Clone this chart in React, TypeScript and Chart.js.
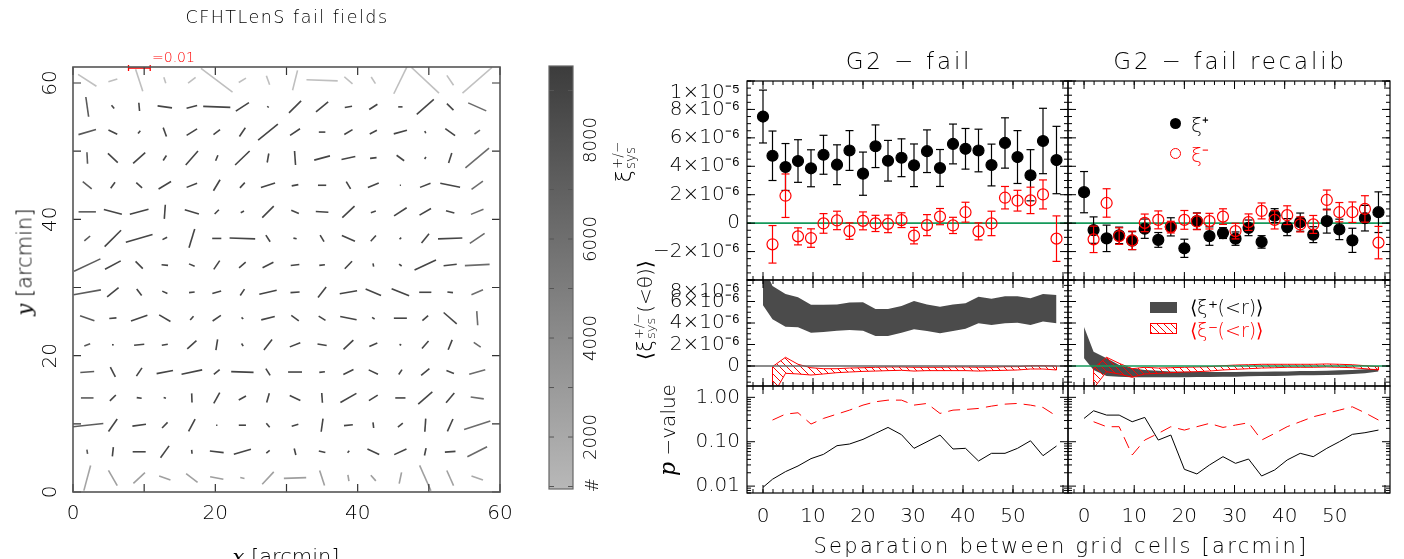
import React, { useEffect, useRef } from 'react';
import { Chart, registerables } from 'chart.js';

Chart.register(...registerables);

const W = 1404;
const H = 559;
const FONT = '"DejaVu Sans", "Liberation Sans", sans-serif';
const FONT_WEIGHT = 200;
const MATH_IT = '"DejaVu Serif", "Liberation Serif", serif';
const RED = '#ff0000';
const GREEN = '#15995a';
const BAND_GRAY = '#4b4b4b';

// ===================== DATA: shear map =====================
// grid-cell centres [arcmin]
const GRID_X = [2.0, 5.6, 9.3, 12.9, 16.7, 20.2, 23.8, 27.4, 31.2, 35.0, 38.7, 42.2, 46.0, 49.5, 53.0, 56.8];
const GRID_Y = [60.4, 56.5, 52.8, 49.0, 45.0, 41.1, 37.2, 33.3, 29.3, 25.5, 21.6, 17.6, 13.8, 9.8, 5.9, 2.05];
// whisker position angle [deg, counter-clockwise from +x], rows top -> bottom
const WHISKER_ANGLE = [
  [147, 17, 108, 108, 38, 143, 31, 110, 76, 178, 139, 123, 64, 137, 124, 41],
  [98, 129, 95, 172, 14, 178, 33, 140, 45, 39, 10, 33, 0, 41, 135, 156],
  [16, 154, 52, 110, 32, 37, 56, 39, 34, 0, 31, 27, 15, 113, 144, 35],
  [93, 137, 42, 56, 49, 68, 44, 80, 94, 15, 12, 6, 144, 56, 72, 40],
  [141, 54, 138, 31, 22, 59, 47, 17, 11, 0, 121, 22, 0, 22, 169, 36],
  [0, 165, 15, 86, 163, 45, 27, 45, 157, 177, 43, 18, 33, 30, 164, 22],
  [40, 45, 16, 27, 73, 0, 178, 123, 169, 121, 156, 48, 45, 51, 2, 34],
  [25, 28, 135, 174, 158, 56, 40, 27, 7, 7, 46, 101, 143, 25, 7, 3],
  [10, 39, 127, 156, 7, 15, 56, 13, 4, 52, 10, 157, 158, 0, 173, 23],
  [161, 5, 19, 150, 48, 34, 135, 14, 144, 148, 169, 148, 0, 41, 139, 94],
  [21, 0, 6, 10, 42, 81, 122, 52, 22, 170, 43, 23, 149, 49, 68, 145],
  [4, 117, 56, 11, 12, 40, 178, 122, 0, 7, 26, 155, 56, 39, 159, 16],
  [0, 45, 172, 164, 92, 61, 29, 74, 155, 94, 30, 32, 0, 41, 50, 172],
  [6, 55, 8, 45, 62, 0, 0, 130, 17, 82, 6, 97, 39, 86, 66, 18],
  [99, 84, 0, 54, 95, 173, 16, 39, 104, 166, 50, 155, 25, 78, 4, 27],
  [75, 120, 43, 161, 143, 169, 167, 47, 2, 108, 99, 131, 78, 114, 114, 161],
];
// whisker ellipticity [units of 1e-3]
const WHISKER_E = [
  [10.1, 4.3, 10.7, 2.9, 4.4, 18.2, 3.9, 4.4, 9.4, 14.4, 5.0, 3.6, 13.8, 17.3, 5.5, 18.0],
  [9.2, 2.0, 3.8, 6.7, 5.0, 12.5, 7.2, 0.9, 7.9, 7.2, 3.4, 4.5, 2.0, 10.4, 4.3, 9.1],
  [8.4, 4.5, 1.7, 4.4, 5.7, 3.8, 4.9, 11.7, 5.5, 3.0, 4.4, 3.7, 6.3, 1.1, 5.6, 3.1],
  [5.3, 6.2, 7.5, 2.7, 8.6, 2.8, 9.3, 4.2, 6.5, 7.5, 6.5, 3.0, 4.3, 1.1, 4.8, 14.2],
  [5.3, 3.4, 3.6, 6.7, 5.2, 5.9, 3.3, 6.8, 3.1, 3.8, 3.9, 5.4, 0.5, 5.2, 9.3, 6.5],
  [8.0, 8.6, 8.9, 6.5, 6.8, 2.8, 1.7, 7.5, 3.8, 5.8, 7.7, 2.4, 6.9, 6.1, 4.0, 6.2],
  [3.5, 10.7, 12.8, 2.4, 9.0, 4.2, 11.8, 3.6, 1.5, 3.5, 6.6, 3.6, 1.1, 5.5, 11.2, 8.2],
  [13.4, 8.2, 4.7, 3.0, 2.8, 4.9, 4.0, 5.6, 4.0, 2.6, 4.8, 1.5, 1.5, 10.9, 6.1, 11.4],
  [12.8, 6.8, 3.8, 2.6, 2.6, 4.2, 3.5, 8.2, 4.2, 6.1, 8.1, 7.7, 8.7, 5.6, 2.6, 5.8],
  [7.0, 3.3, 8.0, 6.0, 2.3, 4.6, 1.1, 6.4, 4.3, 3.7, 7.7, 1.4, 6.0, 3.5, 8.0, 6.5],
  [2.9, 0.8, 4.7, 2.8, 5.7, 5.0, 1.4, 6.1, 5.2, 4.3, 6.2, 4.0, 0.9, 4.6, 4.9, 3.9],
  [6.4, 5.1, 4.6, 7.7, 9.7, 3.5, 10.3, 3.7, 6.4, 2.6, 5.2, 4.7, 2.7, 4.9, 3.7, 7.7],
  [5.8, 3.9, 2.3, 1.1, 4.2, 5.7, 3.8, 4.4, 5.4, 4.5, 8.5, 4.8, 4.7, 8.6, 5.9, 6.1],
  [14.9, 7.0, 6.3, 3.6, 6.4, 0.6, 3.3, 2.4, 3.2, 6.1, 4.1, 2.6, 2.9, 6.1, 6.3, 12.7],
  [2.0, 4.3, 6.0, 6.7, 1.8, 6.4, 8.2, 2.0, 3.1, 3.1, 1.2, 6.0, 6.2, 3.5, 4.9, 10.2],
  [12.0, 8.1, 7.3, 5.5, 6.6, 6.2, 2.0, 7.8, 10.3, 7.3, 3.0, 3.5, 5.3, 12.8, 7.6, 5.6],
];
// galaxies per cell (grey level)
const CELL_COUNT = [
  [400, 500, 500, 500, 500, 450, 500, 500, 500, 500, 500, 500, 450, 400, 500, 350],
  [7400, 8800, 8900, 8800, 8900, 8800, 8900, 8800, 8800, 8900, 8800, 8900, 8800, 8800, 8700, 6200],
  [7500, 8900, 8800, 8900, 8800, 8900, 8800, 8900, 8900, 8800, 8900, 8800, 8900, 8800, 8800, 6300],
  [7400, 8800, 8900, 8800, 8900, 8800, 8900, 8800, 8800, 8900, 8800, 8900, 8800, 8900, 8700, 6200],
  [7300, 8900, 8800, 8900, 8800, 8900, 8800, 8900, 8900, 8800, 8900, 8800, 8900, 8800, 8800, 6100],
  [7400, 8800, 8900, 8800, 8900, 8800, 8900, 8800, 8800, 8900, 8800, 8900, 8800, 8900, 8700, 6200],
  [7500, 8900, 8800, 8900, 8800, 8900, 8800, 8900, 8900, 8800, 8900, 8800, 8900, 8800, 8800, 6300],
  [7200, 8800, 8900, 8800, 8900, 8800, 8900, 8800, 8800, 8900, 8800, 8900, 8800, 8900, 8700, 6200],
  [7300, 8900, 8800, 8900, 8800, 8900, 8800, 8900, 8900, 8800, 8900, 8800, 8900, 8800, 8800, 6100],
  [7400, 8800, 8900, 8800, 8900, 8800, 8900, 8800, 8800, 8900, 8800, 8900, 8800, 8900, 8700, 6200],
  [7500, 8900, 8800, 8900, 8800, 8900, 8800, 8900, 8900, 8800, 8900, 8800, 8900, 8800, 8800, 6300],
  [7400, 8800, 8900, 8800, 8900, 8800, 8900, 8800, 8800, 8900, 8800, 8900, 8800, 8900, 8700, 6200],
  [7300, 8900, 8800, 8900, 8800, 8900, 8800, 8900, 8900, 8800, 8900, 8800, 8900, 8800, 8800, 6100],
  [7200, 8800, 8900, 8800, 8900, 8800, 8900, 8800, 8800, 8900, 8800, 8900, 8800, 8900, 8700, 6200],
  [7400, 8900, 8800, 8900, 8800, 8900, 8800, 8900, 8900, 8800, 8900, 8800, 8900, 8800, 8800, 6300],
  [2300, 2600, 2700, 2600, 2600, 2700, 2600, 2600, 2700, 2600, 2600, 2700, 2600, 2600, 2500, 2000],
];
const MAP_X_RANGE = [0, 60];
const MAP_Y_RANGE = [0, 62.35];
const SCALE_BAR_E = 10; // e = 0.01 in units of 1e-3
const SCALE_BAR_ARCMIN = 3.05; // map length of a whisker with e = 0.01
const SCALE_BAR_X0 = 7.8;

// colour bar range (# galaxies) and its tick labels
const CB_MIN = 950;
const CB_MAX = 9495;
const CB_TICKS = [2000, 4000, 6000, 8000];

// ===================== DATA: correlation panels =====================
const SEP = [0, 1.9, 4.5, 7.0, 9.6, 12.1, 14.8, 17.3, 20.0, 22.5, 25.0, 27.7, 30.2, 32.8, 35.4, 38.0, 40.5, 43.1, 45.7, 48.4, 50.9, 53.5, 56.0, 58.7];
// xi values in units of 1e-6
const XIP_FAIL = [7.50, 4.74, 3.95, 4.37, 3.86, 4.81, 4.11, 5.11, 3.48, 5.41, 4.39, 4.60, 4.07, 5.06, 3.88, 5.57, 5.23, 5.11, 4.09, 5.64, 4.65, 3.37, 5.78, 4.44];
const XIP_FAIL_ERR = [1.86, 1.74, 1.65, 1.5, 1.3, 1.37, 1.4, 1.4, 1.52, 1.5, 1.43, 1.33, 1.5, 1.5, 1.3, 1.4, 1.43, 1.5, 1.47, 1.77, 1.86, 1.8, 2.3, 2.37];
const XIM_FAIL = [null, -1.49, 1.93, -0.93, -1.05, -0.02, 0.19, -0.56, 0.16, -0.02, -0.05, 0.21, -0.88, -0.14, 0.46, -0.16, 0.77, -0.58, -0.02, 1.79, 1.58, 1.60, 2.02, -1.09];
const XIM_FAIL_ERR = [null, 1.32, 1.53, 0.6, 0.65, 0.69, 0.65, 0.58, 0.63, 0.57, 0.62, 0.52, 0.58, 0.74, 0.57, 0.57, 0.7, 0.6, 0.86, 0.79, 0.73, 0.93, 1.02, 1.6];
const XIP_RECAL = [2.18, -0.49, -1.07, -0.86, -1.23, -0.39, -1.18, -0.26, -1.77, 0.14, -0.91, -0.70, -1.09, -0.33, -1.32, 0.53, -0.28, 0.07, -0.81, 0.14, -0.44, -1.21, 0.35, 0.77];
const XIP_RECAL_ERR = [1.45, 0.93, 0.93, 0.58, 0.63, 0.68, 0.52, 0.64, 0.64, 0.58, 0.65, 0.38, 0.47, 0.55, 0.44, 0.49, 0.6, 0.64, 0.56, 0.84, 0.72, 0.85, 0.9, 1.43];
const XIM_RECAL = [null, -1.14, 1.42, -0.91, -1.21, 0.02, 0.23, -0.28, 0.23, 0.12, 0.14, 0.46, -0.56, 0.07, 0.86, 0.23, 0.56, -0.09, -0.09, 1.63, 0.77, 0.77, 1.0, -1.37];
const XIM_RECAL_ERR = [null, 0.93, 1.0, 0.58, 0.65, 0.62, 0.63, 0.41, 0.66, 0.58, 0.55, 0.55, 0.55, 0.58, 0.56, 0.64, 0.66, 0.53, 0.63, 0.7, 0.68, 0.72, 0.93, 1.14];

// cumulative <xi(<r)> bands, units of 1e-6
const CUMP_FAIL_HI = [9.36, 7.44, 6.7, 6.4, 5.7, 5.7, 5.73, 5.9, 5.92, 5.3, 5.3, 5.58, 6.05, 5.73, 5.52, 5.73, 5.83, 6.45, 6.26, 6.5, 6.5, 6.3, 6.7, 6.6];
const CUMP_FAIL_LO = [5.64, 4.34, 3.66, 3.6, 3.1, 3.16, 3.29, 3.35, 3.29, 2.79, 2.79, 3.1, 3.41, 3.26, 3.04, 3.26, 3.47, 3.97, 3.82, 3.97, 4.03, 3.82, 4.13, 3.97];
const CUMM_FAIL_HI = [null, -0.06, 0.81, 0.16, -0.16, -0.25, -0.25, -0.19, -0.16, -0.12, -0.09, -0.09, -0.12, -0.12, -0.12, -0.09, -0.09, -0.12, -0.12, -0.06, -0.06, 0.03, 0.03, 0.0];
const CUMM_FAIL_LO = [null, -2.81, -0.68, -0.74, -0.84, -0.74, -0.62, -0.56, -0.5, -0.47, -0.43, -0.4, -0.47, -0.43, -0.43, -0.43, -0.43, -0.47, -0.43, -0.4, -0.37, -0.28, -0.28, -0.37];
const CUMP_RECAL_HI = [3.63, 1.33, 0.71, 0.09, -0.22, -0.37, -0.43, -0.50, -0.53, -0.53, -0.56, -0.56, -0.56, -0.53, -0.53, -0.50, -0.50, -0.47, -0.47, -0.43, -0.40, -0.37, -0.31, -0.25];
const CUMP_RECAL_LO = [0.73, -0.37, -0.93, -0.99, -1.05, -1.05, -1.05, -1.05, -1.05, -1.02, -1.02, -0.99, -0.99, -0.96, -0.93, -0.93, -0.90, -0.87, -0.87, -0.84, -0.81, -0.74, -0.68, -0.50];
const CUMM_RECAL_HI = [null, -0.21, 0.81, 0.25, -0.25, -0.12, -0.19, -0.16, -0.12, -0.09, -0.06, 0.03, 0.09, 0.12, 0.16, 0.16, 0.16, 0.16, 0.16, 0.19, 0.16, 0.12, 0.03, -0.06];
const CUMM_RECAL_LO = [null, -2.07, -0.53, -0.74, -1.05, -0.74, -0.68, -0.62, -0.56, -0.53, -0.47, -0.37, -0.31, -0.25, -0.19, -0.16, -0.12, -0.12, -0.12, -0.09, -0.12, -0.16, -0.25, -0.37];

// p-values
const PP_FAIL = [0.0094, 0.0143, 0.0212, 0.0284, 0.0416, 0.052, 0.0815, 0.0888, 0.113, 0.154, 0.21, 0.144, 0.071, 0.1, 0.1415, 0.0686, 0.071, 0.0368, 0.0548, 0.0548, 0.071, 0.105, 0.0485, 0.080];
const PM_FAIL = [null, 0.308, 0.419, 0.449, 0.25, 0.335, 0.419, 0.515, 0.668, 0.794, 0.865, 0.865, 0.668, 0.728, 0.434, 0.515, 0.533, 0.562, 0.634, 0.703, 0.728, 0.668, 0.592, 0.378];
const PP_RECAL = [0.335, 0.498, 0.398, 0.398, 0.282, 0.353, 0.109, 0.1415, 0.0239, 0.0188, 0.0299, 0.0461, 0.0326, 0.0408, 0.0169, 0.0231, 0.0388, 0.0548, 0.0461, 0.071, 0.1, 0.1466, 0.1596, 0.183];
const PM_RECAL = [null, 0.282, 0.218, 0.218, 0.0502, 0.109, 0.154, 0.218, 0.183, 0.218, 0.259, 0.21, 0.237, 0.268, 0.109, 0.154, 0.218, 0.282, 0.365, 0.434, 0.515, 0.612, 0.449, 0.308];

// axis ranges
const X_RANGE = [-3.2, 61];
const XI_RANGE = [-4, 10];
const CUM_RANGE = [-1.86, 8];
const P_RANGE = [0.007, 1.8];

// ===================== LAYOUT =====================
const RECT = {
  map: { l: 73, t: 67, r: 500, b: 492 },
  cbar: { l: 549, t: 66, r: 573, b: 489 },
  xi1: { l: 747, t: 81, r: 1068, b: 280 },
  xi2: { l: 1068, t: 81, r: 1390, b: 280 },
  cum1: { l: 747, t: 280, r: 1068, b: 386 },
  cum2: { l: 1068, t: 280, r: 1390, b: 386 },
  p1: { l: 747, t: 386, r: 1068, b: 493 },
  p2: { l: 1068, t: 386, r: 1390, b: 493 },
};
const AXIS_BOX = { left: 140, bottom: 50, mapLeft: 60, cbarRight: 40 };

// ===================== helpers =====================
const SUP: Record<string, string> = { '0': '⁰', '1': '¹', '2': '²', '3': '³', '4': '⁴', '5': '⁵', '6': '⁶', '7': '⁷', '8': '⁸', '9': '⁹', '-': '⁻' };
function sci(v: number): string {
  if (Math.abs(v) < 1e-9) return '0';
  const real = v * 1e-6;
  const e = Math.floor(Math.log10(Math.abs(real)) + 1e-9);
  const m = Math.round(real / Math.pow(10, e));
  return (m < 0 ? '−' : '') + Math.abs(m) + '×10' + String(e).split('').map((c) => SUP[c]).join('');
}
// label at the upper edge of a panel is pushed just inside the frame (as in the original)
const sciEdge = (max: number) => (v: number) => (Math.abs(v - max) < 1e-9 ? ['', sci(v)] : sci(v));

function grayOf(n: number): string {
  const t = (n - CB_MIN) / (CB_MAX - CB_MIN);
  const g = Math.round(Math.max(40, Math.min(215, 184 - t * 124)));
  return `rgb(${g},${g},${g})`;
}

// fixes an axis box to a given thickness (0 when the axis is hidden)
const fitTo = (size: number) => (s: any) => {
  const v = s.options.display === false ? 0 : size;
  if (s.isHorizontal()) s.height = v;
  else s.width = v;
  s.paddingLeft = 0;
  s.paddingRight = 0;
  s.paddingTop = 0;
  s.paddingBottom = 0;
};

const frameTicks: any = {
  id: 'frameTicks',
  afterDatasetsDraw(chart: any, _a: any, o: any) {
    const a = chart.chartArea;
    const ctx = chart.ctx;
    const xs = chart.scales.x;
    const ys = chart.scales.y;
    const L = a.left, R = a.right, T = a.top, B = a.bottom;
    ctx.save();
    ctx.strokeStyle = o.color;
    ctx.lineWidth = o.lineWidth;
    ctx.beginPath();
    const vx = (v: number, len: number) => {
      const p = xs.getPixelForValue(v);
      if (!isFinite(p) || p < L - 0.5 || p > R + 0.5) return;
      ctx.moveTo(p, B); ctx.lineTo(p, B - len);
      ctx.moveTo(p, T); ctx.lineTo(p, T + len);
    };
    const vy = (v: number, len: number) => {
      const p = ys.getPixelForValue(v);
      if (!isFinite(p) || p < T - 0.5 || p > B + 0.5) return;
      ctx.moveTo(L, p); ctx.lineTo(L + len, p);
      ctx.moveTo(R, p); ctx.lineTo(R - len, p);
    };
    const steps = (min: number, max: number, step: number) => {
      const out: number[] = [];
      for (let k = Math.ceil(min / step - 1e-9); k * step <= max + 1e-9; k++) out.push(k * step);
      return out;
    };
    if (o.xMinor) steps(xs.min, xs.max, o.xMinor).forEach((v) => vx(v, o.minorLen));
    if (o.xMajor) steps(xs.min, xs.max, o.xMajor).forEach((v) => vx(v, o.majorLen));
    if (o.yLog) {
      for (let e = Math.floor(Math.log10(ys.min)); e <= Math.ceil(Math.log10(ys.max)); e++) {
        for (let m = 1; m <= 9; m++) {
          const v = m * Math.pow(10, e);
          if (v >= ys.min && v <= ys.max) vy(v, m === 1 ? o.majorLen : o.minorLen);
        }
      }
    } else {
      if (o.yMinor) steps(ys.min, ys.max, o.yMinor).forEach((v) => vy(v, o.minorLen));
      if (o.yMajor) steps(ys.min, ys.max, o.yMajor).forEach((v) => vy(v, o.majorLen));
    }
    ctx.stroke();
    ctx.lineWidth = o.frameWidth || o.lineWidth;
    ctx.strokeStyle = o.frameColor || o.color;
    ctx.strokeRect(L, T, R - L, B - T);
    ctx.restore();
  },
};

const TICK_FONT = { family: FONT, size: 20, weight: FONT_WEIGHT };
const baseOpts = (rect: any, pad: { l?: number; r?: number; b?: number } = {}) => ({
  responsive: false,
  maintainAspectRatio: false,
  animation: false,
  devicePixelRatio: 1,
  events: [],
  layout: {
    padding: {
      left: rect.l - (pad.l || 0),
      top: rect.t,
      right: W - rect.r - (pad.r || 0),
      bottom: H - rect.b - (pad.b || 0),
    },
  },
});
const noGrid = { grid: { display: false, drawTicks: false }, border: { display: false } };

function pts(xs: number[], ys: (number | null)[]) {
  return xs.map((x, i) => ({ x, y: ys[i] }));
}

function errorBars(xs: number[], ys: (number | null)[], es: (number | null)[], color: string, order: number) {
  const data: any[] = [];
  xs.forEach((x, i) => {
    const y = ys[i];
    const e = es[i];
    if (y == null || e == null) return;
    data.push({ x, y: y - e }, { x, y: y + e }, { x, y: null });
  });
  return {
    data, borderColor: color, borderWidth: 1.2, spanGaps: false,
    pointStyle: 'line', pointRadius: 4, pointBorderColor: color, pointBorderWidth: 1.2,
    pointBackgroundColor: color, order, fill: false,
  };
}

function markers(xs: number[], ys: (number | null)[], fill: string, stroke: string, order: number) {
  return {
    data: pts(xs, ys), showLine: false, pointStyle: 'circle', pointRadius: 5.5,
    pointBackgroundColor: fill, pointBorderColor: stroke, pointBorderWidth: 1.2, order,
  };
}

function zeroLine(color: string, width: number, order: number) {
  return {
    data: [{ x: X_RANGE[0], y: 0 }, { x: X_RANGE[1], y: 0 }],
    borderColor: color, borderWidth: width, pointRadius: 0, order, fill: false,
  };
}

function bandDatasets(xs: number[], hi: (number | null)[], lo: (number | null)[], fillStyle: any, order: number) {
  return [
    { data: pts(xs, hi), fill: '+1', backgroundColor: fillStyle, borderWidth: 0, pointRadius: 0, order },
    { data: pts(xs, lo), fill: false, borderWidth: 0, pointRadius: 0, order },
  ];
}

function outline(xs: number[], hi: (number | null)[], lo: (number | null)[], color: string, width: number, order: number) {
  const up = xs.map((x, i) => ({ x, y: hi[i] })).filter((p) => p.y != null);
  const dn = xs.map((x, i) => ({ x, y: lo[i] })).filter((p) => p.y != null).reverse();
  return { data: [...up, ...dn, up[0]], borderColor: color, borderWidth: width, pointRadius: 0, fill: false, order };
}

function hatchPattern(color: string) {
  const c = document.createElement('canvas');
  c.width = 7;
  c.height = 7;
  const g = c.getContext('2d') as CanvasRenderingContext2D;
  g.strokeStyle = color;
  g.lineWidth = 1;
  g.beginPath();
  g.moveTo(-1, -1); g.lineTo(8, 8);
  g.moveTo(-1, 6); g.lineTo(1, 8);
  g.moveTo(6, -1); g.lineTo(8, 1);
  g.stroke();
  return g.createPattern(c, 'repeat');
}

const PANEL_TICKS = { color: '#000', lineWidth: 1, frameWidth: 1.2, xMajor: 10, xMinor: 2, majorLen: 8, minorLen: 4 };

function panel(rect: any, datasets: any[], y: any, showX: boolean, showY: boolean, ticks: any) {
  return {
    type: 'line',
    data: { datasets },
    options: {
      ...baseOpts(rect, { l: showY ? AXIS_BOX.left : 0, b: showX ? AXIS_BOX.bottom : 0 }),
      plugins: { legend: { display: false }, tooltip: { enabled: false }, frameTicks: ticks },
      scales: {
        x: {
          type: 'linear', min: X_RANGE[0], max: X_RANGE[1], display: showX, afterFit: fitTo(AXIS_BOX.bottom), ...noGrid,
          ticks: {
            stepSize: 10, includeBounds: false, autoSkip: false, maxRotation: 0, minRotation: 0,
            font: TICK_FONT, color: '#000', padding: 12,
            callback: (v: number) => (v <= 50 ? String(v) : ''),
          },
        },
        y: { ...y, display: showY, afterFit: fitTo(AXIS_BOX.left), ...noGrid },
      },
    },
    plugins: [frameTicks],
  };
}

const yXi = {
  type: 'linear', min: XI_RANGE[0], max: XI_RANGE[1],
  ticks: {
    stepSize: 2, includeBounds: false, autoSkip: false, font: TICK_FONT, color: '#000', padding: 7,
    callback: (v: number) => (v <= XI_RANGE[0] + 0.5 ? '' : sciEdge(XI_RANGE[1])(v)),
  },
};
const yCum = {
  type: 'linear', min: CUM_RANGE[0], max: CUM_RANGE[1],
  ticks: { stepSize: 2, includeBounds: false, autoSkip: false, font: TICK_FONT, color: '#000', padding: 7, callback: sciEdge(CUM_RANGE[1]) },
};
const yP = {
  type: 'logarithmic', min: P_RANGE[0], max: P_RANGE[1],
  ticks: {
    autoSkip: false, font: TICK_FONT, color: '#000', padding: 7,
    callback: (v: number) => {
      const l = Math.log10(v);
      return Math.abs(l - Math.round(l)) < 1e-6 ? v.toFixed(2) : '';
    },
  },
};

function xiDatasets(xp: number[], xpe: number[], xm: (number | null)[], xme: (number | null)[]) {
  return [
    markers(SEP, xm, 'rgba(0,0,0,0)', RED, 1),
    errorBars(SEP, xm, xme, RED, 2),
    markers(SEP, xp, '#000', '#000', 3),
    errorBars(SEP, xp, xpe, '#000', 4),
    zeroLine(GREEN, 1.6, 5),
  ];
}

function cumDatasets(phi: number[], plo: number[], mhi: any[], mlo: any[], zeroColor: string, hatch: any) {
  return [
    zeroLine(zeroColor, 1.6, 0),
    outline(SEP, mhi, mlo, RED, 1, 1),
    ...bandDatasets(SEP, mhi, mlo, hatch, 2),
    ...bandDatasets(SEP, phi, plo, BAND_GRAY, 3),
  ];
}

function pDatasets(pp: number[], pm: any[]) {
  return [
    { data: pts(SEP, pm), borderColor: RED, borderWidth: 1, borderDash: [12, 7], pointRadius: 0, fill: false, order: 1 },
    { data: pts(SEP, pp), borderColor: '#000', borderWidth: 1, pointRadius: 0, fill: false, order: 2 },
  ];
}

function mapConfig() {
  const data: any[] = [];
  GRID_Y.forEach((y, r) =>
    GRID_X.forEach((x, c) => data.push({ x, y, a: WHISKER_ANGLE[r][c], e: WHISKER_E[r][c], n: CELL_COUNT[r][c] })),
  );
  const pxPerUnit = (chart: any) => {
    const s = chart.scales.x;
    const d = s ? Math.abs(s.getPixelForValue(1) - s.getPixelForValue(0)) : NaN;
    return isFinite(d) && d > 0 ? d : 7.1;
  };
  const barY = MAP_Y_RANGE[1] - 0.15;
  return {
    type: 'scatter',
    data: {
      datasets: [
        {
          data: [{ x: SCALE_BAR_X0, y: barY }, { x: SCALE_BAR_X0 + SCALE_BAR_ARCMIN, y: barY }],
          showLine: true, borderColor: RED, borderWidth: 1.5, pointStyle: 'line', pointRotation: 90,
          pointRadius: 3, pointBorderColor: RED, pointBorderWidth: 1.3, clip: false, order: 0,
        },
        {
          data, showLine: false, pointStyle: 'line',
          pointRotation: (c: any) => (c.raw ? -c.raw.a : 0),
          pointRadius: (c: any) => (c.raw ? ((c.raw.e / SCALE_BAR_E) * SCALE_BAR_ARCMIN * pxPerUnit(c.chart)) / 2 : 0),
          pointBorderColor: (c: any) => (c.raw ? grayOf(c.raw.n) : '#444'),
          pointBackgroundColor: (c: any) => (c.raw ? grayOf(c.raw.n) : '#444'),
          pointBorderWidth: 1.6, order: 1,
        },
      ],
    },
    options: {
      ...baseOpts(RECT.map, { l: AXIS_BOX.mapLeft, b: AXIS_BOX.bottom }),
      plugins: {
        legend: { display: false }, tooltip: { enabled: false },
        frameTicks: { color: '#333', lineWidth: 1.2, frameWidth: 1.6, frameColor: '#555', xMajor: 10, yMajor: 10, majorLen: 8, minorLen: 4 },
      },
      scales: {
        x: {
          type: 'linear', min: MAP_X_RANGE[0], max: MAP_X_RANGE[1], afterFit: fitTo(AXIS_BOX.bottom), ...noGrid,
          ticks: { stepSize: 20, includeBounds: false, autoSkip: false, maxRotation: 0, font: TICK_FONT, color: '#000', padding: 10 },
        },
        y: {
          type: 'linear', min: MAP_Y_RANGE[0], max: MAP_Y_RANGE[1], afterFit: fitTo(AXIS_BOX.mapLeft), ...noGrid,
          ticks: {
            stepSize: 20, includeBounds: false, autoSkip: false, minRotation: 90, maxRotation: 90,
            crossAlign: 'center', font: TICK_FONT, color: '#000', padding: 9,
          },
        },
      },
    },
    plugins: [frameTicks],
  };
}

function cbarConfig() {
  return {
    type: 'bar',
    data: {
      labels: ['#'],
      datasets: [
        {
          data: [[CB_MIN, CB_MAX]],
          backgroundColor: (c: any) => {
            const ch = c.chart;
            const ys = ch.scales && ch.scales.y;
            if (!ys) return grayOf((CB_MIN + CB_MAX) / 2);
            const y0 = ys.getPixelForValue(CB_MAX);
            const y1 = ys.getPixelForValue(CB_MIN);
            if (!isFinite(y0) || !isFinite(y1) || y0 === y1) return grayOf((CB_MIN + CB_MAX) / 2);
            const g = ch.ctx.createLinearGradient(0, y0, 0, y1);
            g.addColorStop(0, grayOf(CB_MAX));
            g.addColorStop(1, grayOf(CB_MIN));
            return g;
          },
          borderWidth: 0, barPercentage: 1, categoryPercentage: 1,
        },
      ],
    },
    options: {
      ...baseOpts(RECT.cbar, { r: AXIS_BOX.cbarRight }),
      plugins: {
        legend: { display: false }, tooltip: { enabled: false },
        frameTicks: { color: '#555', lineWidth: 1, frameWidth: 1.2, frameColor: '#666', yMajor: 1000, majorLen: 5, minorLen: 3 },
      },
      scales: {
        x: { type: 'category', display: false, afterFit: fitTo(0), offset: true, ...noGrid },
        y: {
          type: 'linear', position: 'right', min: CB_MIN, max: CB_MAX, afterFit: fitTo(AXIS_BOX.cbarRight), ...noGrid,
          afterBuildTicks: (s: any) => {
            s.ticks = CB_TICKS.map((v) => ({ value: v }));
          },
          ticks: {
            autoSkip: false, minRotation: 90, maxRotation: 90,
            crossAlign: 'center', font: { family: FONT, size: 18, weight: FONT_WEIGHT }, color: '#000', padding: -5,
            callback: (v: number) => String(v),
          },
        },
      },
    },
    plugins: [frameTicks],
  };
}

// ===================== text helpers =====================
function Txt(props: { x: number; y: number; size: number; color?: string; rot?: boolean; align?: 'center' | 'left'; spacing?: number; children: any; family?: string }) {
  const { x, y, size, color, rot, align, spacing, children, family } = props;
  const tx = align === 'left' ? '0' : '-50%';
  return (
    <div
      style={{
        position: 'absolute', left: x, top: y, whiteSpace: 'nowrap', lineHeight: 1,
        fontFamily: family || FONT, fontWeight: FONT_WEIGHT, fontSize: size, color: color || '#000',
        letterSpacing: spacing ? `${spacing}px` : undefined,
        transform: `translate(${tx},-50%)${rot ? ' rotate(-90deg)' : ''}`,
      }}
    >
      {children}
    </div>
  );
}

function XiSys({ size }: { size: number }) {
  return (
    <span style={{ display: 'inline-flex', alignItems: 'center' }}>
      <span style={{ fontSize: size }}>ξ</span>
      <span style={{ display: 'inline-flex', flexDirection: 'column', fontSize: size * 0.62, lineHeight: 0.95, marginLeft: 1 }}>
        <span>+/−</span>
        <span>sys</span>
      </span>
    </span>
  );
}

export default function App() {
  const refs = [useRef<HTMLCanvasElement>(null), useRef<HTMLCanvasElement>(null), useRef<HTMLCanvasElement>(null), useRef<HTMLCanvasElement>(null),
    useRef<HTMLCanvasElement>(null), useRef<HTMLCanvasElement>(null), useRef<HTMLCanvasElement>(null), useRef<HTMLCanvasElement>(null)];

  useEffect(() => {
    const hatch = hatchPattern(RED);
    const cfgs: any[] = [
      mapConfig(),
      cbarConfig(),
      panel(RECT.xi1, xiDatasets(XIP_FAIL, XIP_FAIL_ERR, XIM_FAIL, XIM_FAIL_ERR), yXi, false, true, { ...PANEL_TICKS, yMajor: 2, yMinor: 0.5 }),
      panel(RECT.xi2, xiDatasets(XIP_RECAL, XIP_RECAL_ERR, XIM_RECAL, XIM_RECAL_ERR), yXi, false, false, { ...PANEL_TICKS, yMajor: 2, yMinor: 0.5 }),
      panel(RECT.cum1, cumDatasets(CUMP_FAIL_HI, CUMP_FAIL_LO, CUMM_FAIL_HI, CUMM_FAIL_LO, '#666666', hatch), yCum, false, true, { ...PANEL_TICKS, yMajor: 2, yMinor: 0.5 }),
      panel(RECT.cum2, cumDatasets(CUMP_RECAL_HI, CUMP_RECAL_LO, CUMM_RECAL_HI, CUMM_RECAL_LO, GREEN, hatch), yCum, false, false, { ...PANEL_TICKS, yMajor: 2, yMinor: 0.5 }),
      panel(RECT.p1, pDatasets(PP_FAIL, PM_FAIL), yP, true, true, { ...PANEL_TICKS, yLog: true }),
      panel(RECT.p2, pDatasets(PP_RECAL, PM_RECAL), yP, true, false, { ...PANEL_TICKS, yLog: true }),
    ];
    const charts: any[] = [];
    cfgs.forEach((cfg, i) => {
      try {
        charts.push(new Chart(refs[i].current as HTMLCanvasElement, cfg));
      } catch (err) {
        console.error(err);
      }
    });
    return () => charts.forEach((c) => c.destroy());
  }, []);

  return (
    <div style={{ position: 'absolute', left: 0, top: 0, width: W, height: H, overflow: 'hidden', background: '#fff', fontFamily: FONT }}>
      {refs.map((r, i) => (
        <canvas key={i} ref={r} width={W} height={H} style={{ position: 'absolute', left: 0, top: 0, width: W, height: H }} />
      ))}

      {/* left panel texts */}
      <Txt x={287} y={18} size={17.5} spacing={1.5}>CFHTLenS fail fields</Txt>
      <Txt x={152} y={57} size={14} color={RED} align="left">=0.01</Txt>
      <Txt x={286} y={557} size={21}>
        <span style={{ fontFamily: MATH_IT, fontStyle: 'italic' }}>x</span> [arcmin]
      </Txt>
      <Txt x={25} y={262} size={21} rot>
        <span style={{ fontFamily: MATH_IT, fontStyle: 'italic' }}>y</span> [arcmin]
      </Txt>
      <Txt x={592} y={485} size={17} rot>#</Txt>

      {/* right panels titles */}
      <Txt x={909} y={60.5} size={23} spacing={2.8}>G2 − fail</Txt>
      <Txt x={1230} y={60.5} size={23} spacing={2.8}>G2 − fail recalib</Txt>
      <Txt x={1061} y={546} size={21} spacing={2.3}>Separation between grid cells [arcmin]</Txt>

      {/* y titles */}
      <Txt x={624} y={162} size={20} rot><XiSys size={22} /></Txt>
      <Txt x={645} y={310} size={20} rot>
        <span style={{ display: 'inline-flex', alignItems: 'center' }}>⟨<XiSys size={21} />(&lt;θ)⟩</span>
      </Txt>
      <Txt x={668} y={430} size={20} rot>
        <span style={{ fontFamily: MATH_IT, fontStyle: 'italic', fontSize: 22 }}>p</span> −value
      </Txt>

      {/* legend top right */}
      <div style={{ position: 'absolute', left: 1169.5, top: 117.5, width: 11, height: 11, borderRadius: '50%', background: '#000' }} />
      <div style={{ position: 'absolute', left: 1169.5, top: 147.5, width: 9.6, height: 9.6, borderRadius: '50%', border: `1.2px solid ${RED}` }} />
      <Txt x={1191} y={125} size={20} align="left">ξ⁺</Txt>
      <Txt x={1191} y={155} size={20} align="left" color={RED}>ξ⁻</Txt>

      {/* legend middle right */}
      <div style={{ position: 'absolute', left: 1150, top: 302, width: 27, height: 11, background: BAND_GRAY }} />
      <div
        style={{
          position: 'absolute', left: 1150, top: 323, width: 25, height: 9, border: `1px solid ${RED}`,
          background: `repeating-linear-gradient(45deg, ${RED} 0px, ${RED} 1px, transparent 1px, transparent 5px)`,
        }}
      />
      <Txt x={1190} y={307} size={19} align="left">⟨ξ⁺(&lt;r)⟩</Txt>
      <Txt x={1190} y={330} size={19} align="left" color={RED}>⟨ξ⁻(&lt;r)⟩</Txt>
    </div>
  );
}
